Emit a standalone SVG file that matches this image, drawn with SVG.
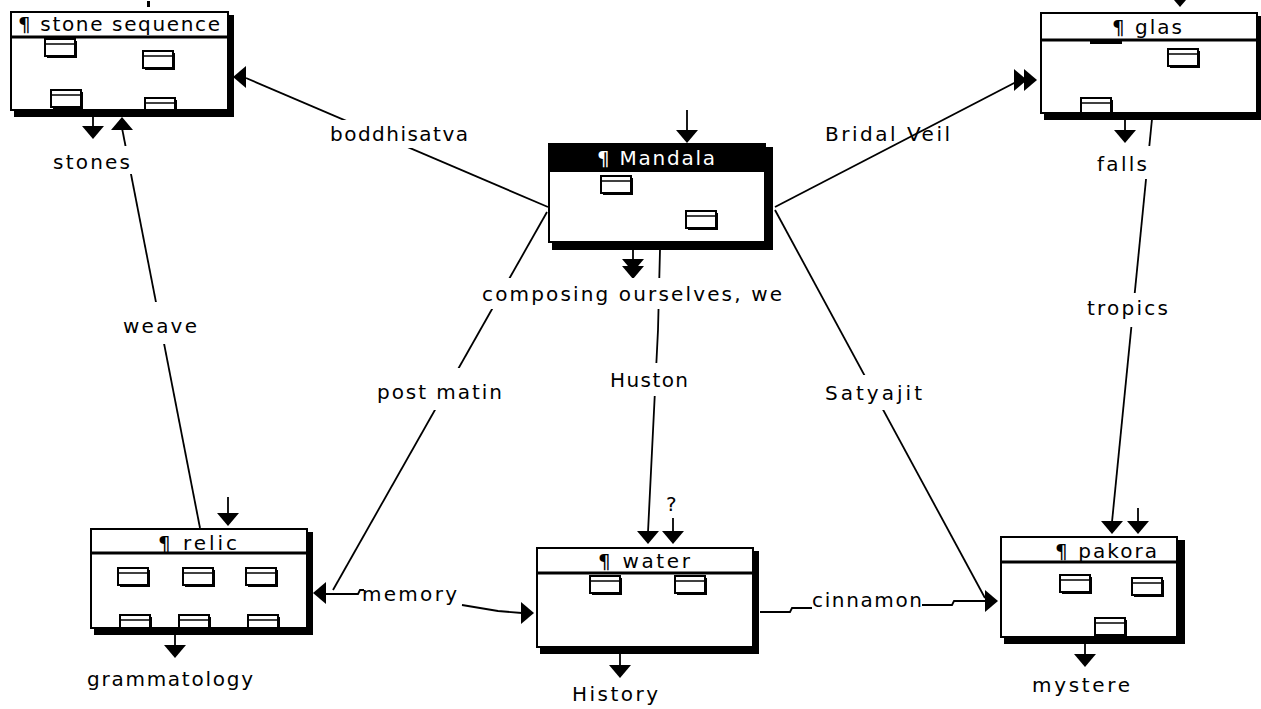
<svg xmlns="http://www.w3.org/2000/svg" width="1261" height="709" viewBox="0 0 1261 709">
<style>
text{font-family:"DejaVu Sans","Liberation Sans",sans-serif;font-size:20px;fill:#000}
.box{fill:#fff;stroke:#000;stroke-width:2}
.frame{fill:none;stroke:#000;stroke-width:2}
.sh{fill:#000}
.sep{stroke:#000;stroke-width:3}
.ln{stroke:#000;stroke-width:1.8;fill:none}
.bg{fill:#fff}
.wt{fill:#fff}
</style>
<defs>
<path id="hd" d="M0,0 L-11,-13 L11,-13 Z" fill="#000"/>
<g id="ic"><rect x="2" y="2" width="30" height="17" fill="#000"/><rect x="0" y="0" width="30" height="17" fill="#fff" stroke="#000" stroke-width="2"/><line x1="0" y1="5" x2="30" y2="5" stroke="#000" stroke-width="1.5"/></g>
<clipPath id="c1"><rect x="11" y="12" width="217" height="98"/></clipPath>
<clipPath id="c2"><rect x="1041" y="13" width="216" height="100"/></clipPath>
<clipPath id="c3"><rect x="549" y="144" width="216" height="98"/></clipPath>
<clipPath id="c4"><rect x="91" y="529" width="216" height="99"/></clipPath>
<clipPath id="c5"><rect x="537" y="548" width="216" height="99"/></clipPath>
<clipPath id="c6"><rect x="1001" y="537" width="176" height="100"/></clipPath>
</defs>
<rect width="1261" height="709" fill="#fff"/>

<g id="connectors">
<line class="ln" x1="548" y1="207" x2="246" y2="78"/>
<use href="#hd" transform="translate(233,77) rotate(90)"/>
<line class="ln" x1="775" y1="207" x2="1018" y2="81"/>
<use href="#hd" transform="translate(1037,80) rotate(-90)"/>
<use href="#hd" transform="translate(1027,80) rotate(-90)"/>
<line class="ln" x1="547" y1="212" x2="333" y2="590"/>
<use href="#hd" transform="translate(313,593) rotate(90)"/>
<polyline class="ln" points="325,594 358,594 360,590 364,590"/>
<polyline class="ln" points="462,605 498,611 522,613"/>
<use href="#hd" transform="translate(534,613) rotate(-90)"/>
<polyline class="ln" points="760,612 790,612 792,608 812,608"/>
<polyline class="ln" points="922,605 952,605 954,601 986,601"/>
<use href="#hd" transform="translate(998,601) rotate(-90)"/>
<line class="ln" x1="775" y1="210" x2="985" y2="598"/>
<polyline class="ln" points="660,250 658,330 648,532"/>
<use href="#hd" transform="translate(648,544)"/>
<line class="ln" x1="673" y1="518" x2="673" y2="532"/>
<use href="#hd" transform="translate(673,544)"/>
<line class="ln" x1="687" y1="110" x2="687" y2="131"/>
<use href="#hd" transform="translate(687,143)"/>
<line class="ln" x1="633" y1="250" x2="633" y2="262"/>
<use href="#hd" transform="translate(633,272)"/>
<use href="#hd" transform="translate(633,279)"/>
<line class="ln" x1="93" y1="116" x2="93" y2="127"/>
<use href="#hd" transform="translate(93,139)"/>
<use href="#hd" transform="translate(122,117) rotate(180)"/>
<line class="ln" x1="122" y1="128" x2="200" y2="528"/>
<rect x="147" y="1" width="3" height="6" fill="#000"/>
<polygon points="1174,0 1186,0 1180,7" fill="#000"/>
<line class="ln" x1="1125" y1="119" x2="1125" y2="131"/>
<use href="#hd" transform="translate(1125,143)"/>
<line class="ln" x1="1152" y1="119" x2="1112" y2="522"/>
<use href="#hd" transform="translate(1112,534)"/>
<line class="ln" x1="1138" y1="508" x2="1138" y2="522"/>
<use href="#hd" transform="translate(1138,534)"/>
<line class="ln" x1="228" y1="497" x2="228" y2="514"/>
<use href="#hd" transform="translate(228,526)"/>
<line class="ln" x1="175" y1="634" x2="175" y2="646"/>
<use href="#hd" transform="translate(175,658)"/>
<line class="ln" x1="620" y1="654" x2="620" y2="666"/>
<use href="#hd" transform="translate(620,678)"/>
<line class="ln" x1="1085" y1="643" x2="1085" y2="655"/>
<use href="#hd" transform="translate(1085,667)"/>
</g>

<g id="labels">
<rect class="bg" x="50" y="146" width="84" height="28"/>
<text x="53" y="169" textLength="77">stones</text>
<rect class="bg" x="326" y="120" width="146" height="28"/>
<text x="330" y="141" textLength="138">boddhisatva</text>
<text x="825" y="141" textLength="125">Bridal Veil</text>
<rect class="bg" x="1093" y="146" width="58" height="33"/>
<text x="1097" y="171" textLength="50">falls</text>
<rect class="bg" x="478" y="278" width="308" height="31"/>
<text x="482" y="301" textLength="300">composing ourselves, we</text>
<rect class="bg" x="118" y="302" width="84" height="42"/>
<text x="123" y="333" textLength="74">weave</text>
<rect class="bg" x="1083" y="293" width="89" height="34"/>
<text x="1087" y="315" textLength="81">tropics</text>
<rect class="bg" x="373" y="368" width="133" height="42"/>
<text x="377" y="399" textLength="125">post matin</text>
<rect class="bg" x="606" y="363" width="86" height="33"/>
<text x="610" y="387" textLength="78">Huston</text>
<rect class="bg" x="821" y="375" width="105" height="35"/>
<text x="825" y="400" textLength="97">Satyajit</text>
<text x="666" y="511">?</text>
<text x="362" y="601" textLength="95">memory</text>
<text x="812" y="607" textLength="110">cinnamon</text>
<text x="87" y="686" textLength="166">grammatology</text>
<text x="572" y="701" textLength="86">History</text>
<text x="1032" y="692" textLength="98">mystere</text>
</g>

<g id="node-stone-sequence">
<rect class="sh" x="14" y="15" width="220" height="102"/>
<rect class="box" x="11" y="12" width="217" height="98"/>
<g clip-path="url(#c1)">
<use href="#ic" x="45" y="39"/><use href="#ic" x="143" y="51"/><use href="#ic" x="51" y="90"/><use href="#ic" x="145" y="98"/>
</g>
<rect class="frame" x="11" y="12" width="217" height="98"/>
<line class="sep" x1="11" y1="37" x2="228" y2="37"/>
<text x="18" y="31" textLength="202">¶ stone sequence</text>
</g>

<g id="node-glas">
<rect class="sh" x="1044" y="16" width="219" height="104"/>
<rect class="box" x="1041" y="13" width="216" height="100"/>
<g clip-path="url(#c2)">
<use href="#ic" x="1168" y="49"/><use href="#ic" x="1081" y="98"/>
</g>
<rect class="frame" x="1041" y="13" width="216" height="100"/>
<line class="sep" x1="1041" y1="40" x2="1257" y2="40"/>
<rect x="1090" y="40" width="32" height="4" fill="#000"/>
<text x="1112" y="34" textLength="70">¶ glas</text>
</g>

<g id="node-mandala">
<rect class="sh" x="552" y="147" width="221" height="103"/>
<rect class="box" x="549" y="144" width="216" height="98"/>
<g clip-path="url(#c3)">
<use href="#ic" x="601" y="176"/><use href="#ic" x="686" y="211"/>
</g>
<rect class="frame" x="549" y="144" width="216" height="98"/>
<rect x="548" y="143" width="218" height="29" fill="#000"/>
<text class="wt" x="597" y="165" textLength="118">¶ Mandala</text>
</g>

<g id="node-relic">
<rect class="sh" x="94" y="532" width="219" height="103"/>
<rect class="box" x="91" y="529" width="216" height="99"/>
<g clip-path="url(#c4)">
<use href="#ic" x="118" y="568"/><use href="#ic" x="183" y="568"/><use href="#ic" x="246" y="568"/>
<use href="#ic" x="120" y="615"/><use href="#ic" x="179" y="615"/><use href="#ic" x="248" y="615"/>
</g>
<rect class="frame" x="91" y="529" width="216" height="99"/>
<line class="sep" x1="91" y1="553" x2="307" y2="553"/>
<text x="158" y="550" textLength="79">¶ relic</text>
</g>

<g id="node-water">
<rect class="sh" x="540" y="551" width="219" height="103"/>
<rect class="box" x="537" y="548" width="216" height="99"/>
<g clip-path="url(#c5)">
<use href="#ic" x="590" y="576"/><use href="#ic" x="675" y="576"/>
</g>
<rect class="frame" x="537" y="548" width="216" height="99"/>
<line class="sep" x1="537" y1="573" x2="753" y2="573"/>
<text x="598" y="568" textLength="92">¶ water</text>
</g>

<g id="node-pakora">
<rect class="sh" x="1004" y="540" width="181" height="104"/>
<rect class="box" x="1001" y="537" width="176" height="100"/>
<g clip-path="url(#c6)">
<use href="#ic" x="1060" y="575"/><use href="#ic" x="1132" y="578"/><use href="#ic" x="1095" y="618"/>
</g>
<rect class="frame" x="1001" y="537" width="176" height="100"/>
<line class="sep" x1="1001" y1="562" x2="1177" y2="562"/>
<text x="1055" y="558" textLength="102">¶ pakora</text>
</g>
</svg>
